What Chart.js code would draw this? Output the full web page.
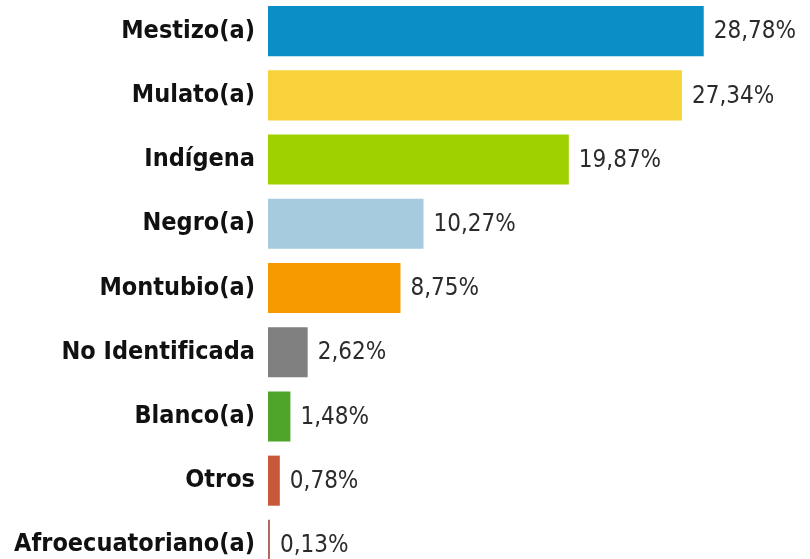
<!DOCTYPE html>
<html lang="es">
<head>
  <meta charset="UTF-8">
  <title>Autoidentificación étnica</title>
  <script src="https://cdn.jsdelivr.net/npm/chart.js"></script>
  <style>
    html, body { margin: 0; padding: 0; background: #fff; overflow: hidden; }
    #wrap { position: absolute; left: 0; top: -1px; width: 810px; height: 578px; }
  </style>
</head>
<body>
  <div id="wrap"><canvas id="chart"></canvas></div>

  <script>
    const categories = ['Mestizo(a)', 'Mulato(a)', 'Indígena', 'Negro(a)', 'Montubio(a)',
      'No Identificada', 'Blanco(a)', 'Otros', 'Afroecuatoriano(a)'];
    const values = [28.78, 27.34, 19.87, 10.27, 8.75, 2.62, 1.48, 0.78, 0.13];
    const barColors = ['#0a8ec4', '#f8d23a', '#9fd100', '#a6cade', '#f79a00',
      '#808080', '#4ea52a', '#c8583a', '#b0685c'];

    const narrow = "'Liberation Sans Narrow', 'Arial Narrow', 'DejaVu Sans Condensed', sans-serif";

    // value labels to the right of each bar
    const valueLabels = {
      id: 'valueLabels',
      afterDatasetsDraw(chart) {
        const ctx = chart.ctx;
        const meta = chart.getDatasetMeta(0);
        ctx.save();
        ctx.font = '24px ' + narrow;
        ctx.fillStyle = '#2b2b2b';
        ctx.textBaseline = 'middle';
        ctx.textAlign = 'left';
        meta.data.forEach((bar, i) => {
          const txt = values[i].toFixed(2).replace('.', ',') + '%';
          ctx.fillText(txt, bar.x + 10, bar.y + 1);
        });
        ctx.restore();
      }
    };

    new Chart(document.getElementById('chart'), {
      type: 'bar',
      data: {
        labels: categories,
        datasets: [{
          data: values,
          backgroundColor: barColors,
          barPercentage: 0.78,
          categoryPercentage: 1
        }]
      },
      options: {
        indexAxis: 'y',
        responsive: true,
        maintainAspectRatio: false,
        animation: false,
        layout: { padding: 0 },
        plugins: { legend: { display: false }, tooltip: { enabled: false } },
        scales: {
          x: { display: false, min: 0, max: 35.8 },
          y: {
            grid: { display: false, drawTicks: false },
            border: { display: false },
            ticks: {
              color: '#111',
              padding: 13,
              font: { family: narrow, size: 25, weight: 'bold' }
            },
            afterFit(scale) {
              scale.width = 268;
              scale.paddingTop = 0;
              scale.paddingBottom = 0;
            }
          }
        }
      },
      plugins: [valueLabels]
    });
  </script>
</body>
</html>
